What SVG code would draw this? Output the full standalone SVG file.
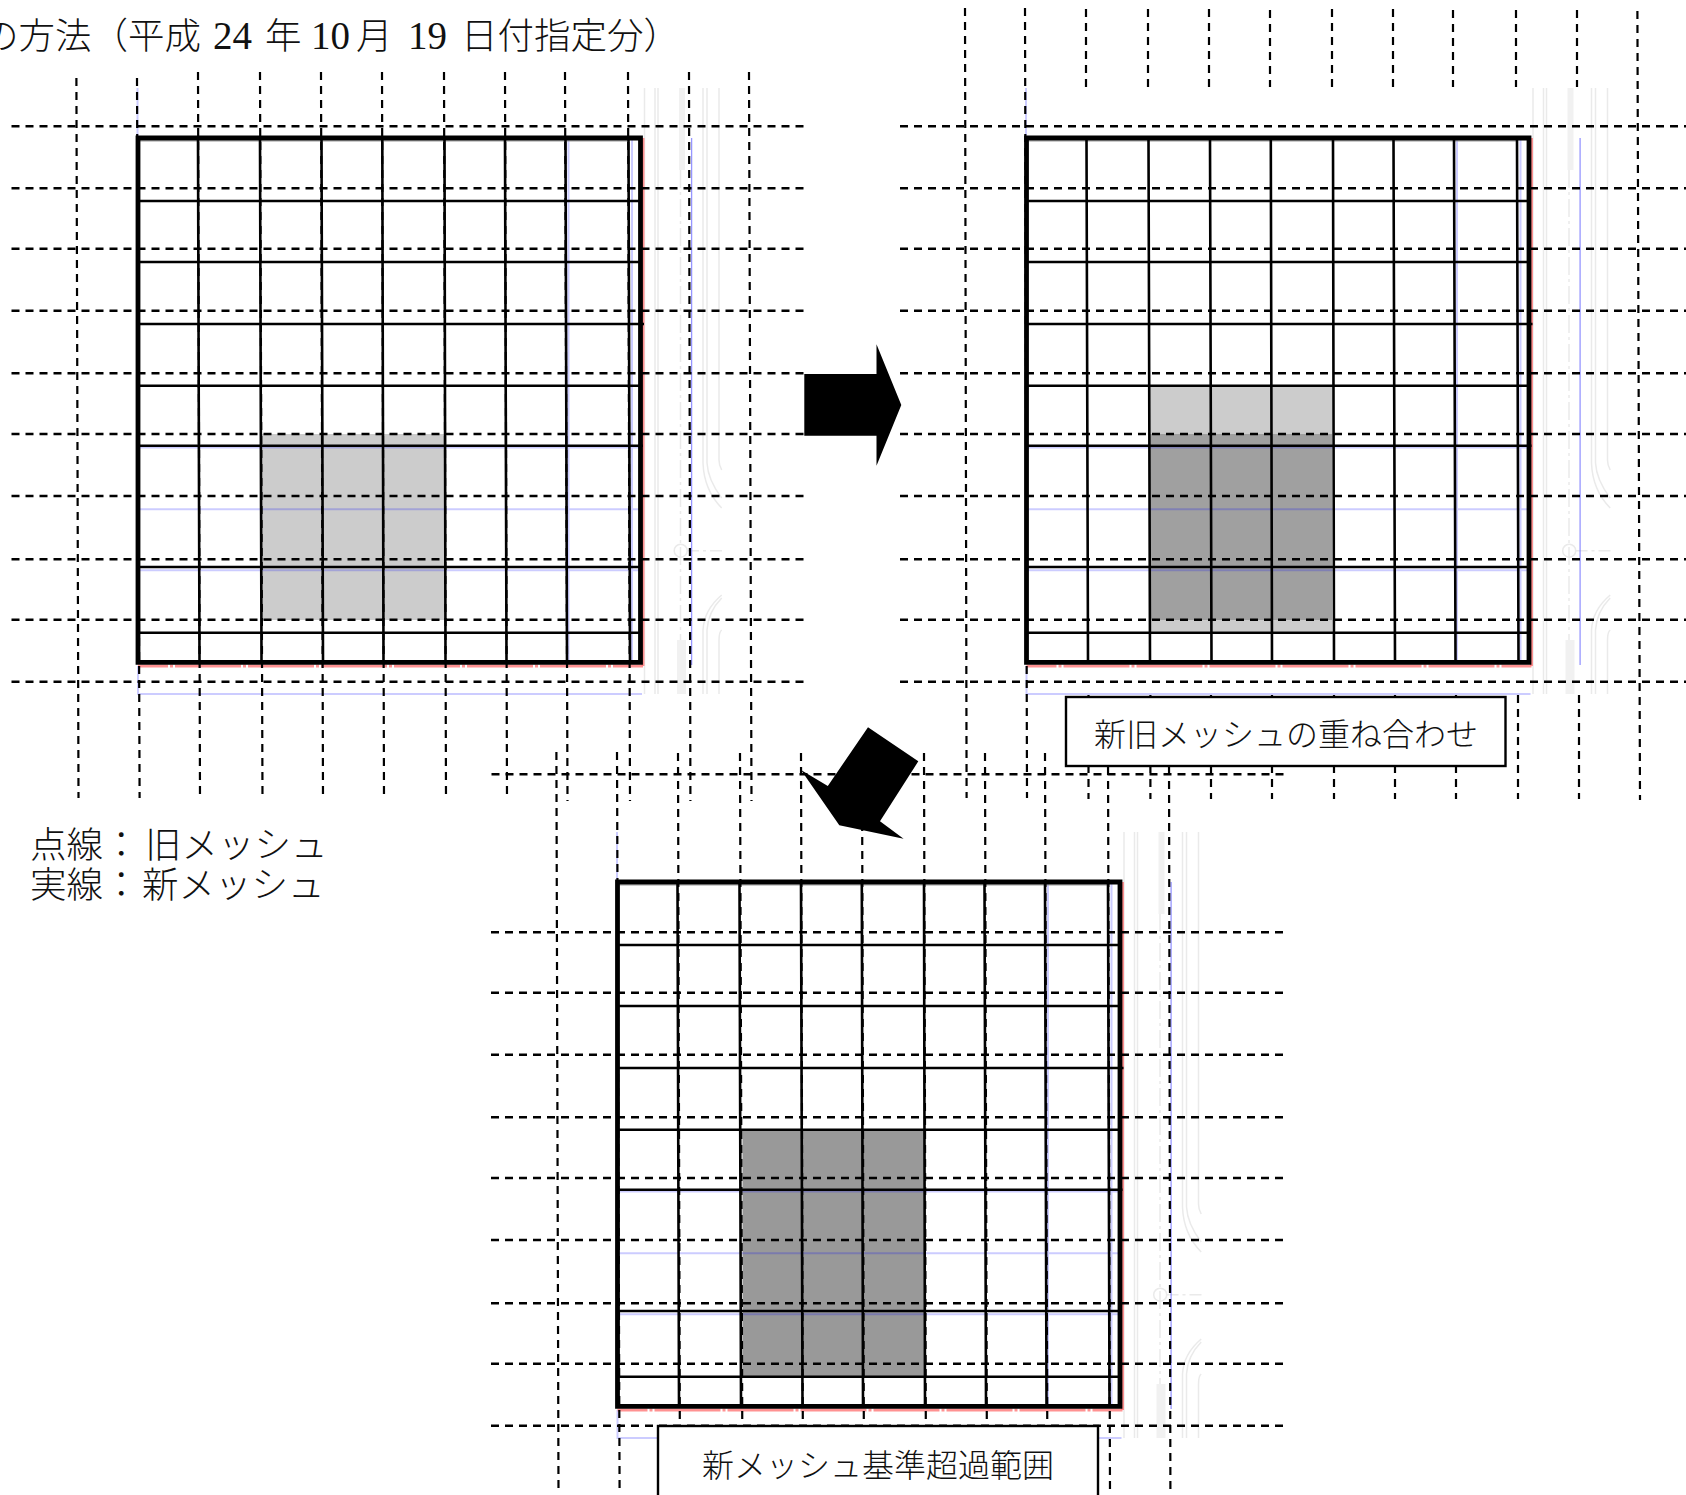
<svg xmlns="http://www.w3.org/2000/svg" xmlns:xlink="http://www.w3.org/1999/xlink" width="1686" height="1495" viewBox="0 0 1686 1495">
<style>
text{font-family:"Liberation Serif","Noto Sans CJK JP",serif;fill:#111}
.cjk{font-family:"Noto Sans CJK JP",sans-serif;font-weight:300}
.t{font-size:36.5px}
.n{font-size:39px}
.l{font-size:32px}
.dh,.dv{fill:none;stroke:#000}
.dh{stroke-width:2.4;stroke-dasharray:8 6}
.dv{stroke-width:2.2;stroke-dasharray:8 6}
.solid{fill:none;stroke:#000;stroke-width:2.6}
.frame{fill:none;stroke:#000;stroke-width:4.8}
.blue{fill:none;stroke:#00f;stroke-opacity:.2;stroke-width:2}
.blue2{fill:none;stroke:#6a6aff;stroke-opacity:.7;stroke-width:1.3}
.red{fill:none;stroke:#f77;stroke-opacity:.8;stroke-width:3}
.ghost{fill:none;stroke:#eaeaea;stroke-width:1.5}
.box{fill:#fff;stroke:#000;stroke-width:2.4}
</style>
<defs>
<g id="mesh">
<path class="ghost" d="M644.5 88V694M655 88V694M658 88V694M703 88V463Q704 490 721.7 508M707 88V463Q708 480 721.7 498M719 88V460Q719 465 721.7 470M721.7 595Q704 610 703 630V694M721.7 598Q708 612 707 630V694M721.7 630Q719 632 719 640V694"/>
<path d="M679 88H685V170H679ZM677 640H686V694H677Z" fill="#f1f1f1"/>
<path class="ghost" d="M680.5 170V640" stroke-dasharray="18 4 3 4"/>
<circle class="ghost" cx="680.7" cy="550.7" r="6.5"/>
<path class="ghost" d="M687 550.7H722" stroke-dasharray="12 4 3 4"/>
<path class="blue" d="M137.5 88V138M632 138V662M139 447.6H640M139 509.3H640M139 570.3H640M138 666V694H642M568.5 138V662"/>
<path class="blue2" d="M691.6 138V665"/>
<path class="red" d="M643 138V666"/>
<path class="red" stroke-dasharray="66 2 3 2" stroke-dashoffset="36" d="M138 666H643"/>
<path d="M140 141H629" stroke="#999" fill="none"/>
<path class="solid" d="M198 138L199.5 662M260 138L261.5 662M321.5 138L323 662M382.3 138L383.5 662M444.5 138L445.5 662M505 138L506.5 662M565.5 138L567 662M628.5 138L630 662M137 201H642M137 262H642M137 324H644M137 385.7H642M137 445.7H643M137 567H642M137 632.7H642"/>
<path class="frame" d="M138 138H640.5V662.3H138Z"/>
<path class="dh" d="M11.5 188.3H804M11.5 248.7H804M11.5 310.7H804M11.5 373.3H804M11.5 434H804M11.5 496H804M11.5 559.3H804M11.5 619.7H804M11.5 681.7H804"/>
</g>
</defs>
<g id="title"><text class="t" x="-18" y="49" xml:space="preserve"><tspan class="cjk">の方法（平成</tspan> <tspan class="n" x="213">24</tspan> <tspan class="cjk" x="265">年</tspan> <tspan class="n" x="311">10</tspan> <tspan class="cjk" x="356">月</tspan> <tspan class="n" x="408">19</tspan> <tspan class="cjk" x="461">日付指定分）</tspan></text></g>

<g id="panel-old">
<rect x="261.5" y="434" width="183.5" height="186" fill="#ccc"/>
<use xlink:href="#mesh" href="#mesh"/>
<path class="dh" d="M11.5 126.3H804"/>
<path class="dv" d="M76.4 78L78.5 798M137 78L139.6 798M198 72L200 800M260 72L262.5 800M321 72L323 800M382 72L384 800M444 72L446 800M505 72L507 800M565 72L567.5 801M628 72L630 801M689 72L690.4 801M749 72L751.5 801"/>
</g>

<g id="panel-overlay">
<rect x="1150" y="385.7" width="182" height="246" fill="#ccc"/>
<rect x="1150" y="434" width="182" height="186" fill="#a0a0a0"/>
<use xlink:href="#mesh" href="#mesh" x="888.5"/>
<path class="dh" d="M900 126.3H1692"/>
<path class="dv" d="M965 8L966.6 798M1025 8L1027 798M1637.4 11L1640 800M1086 9V87M1148 9V87M1209 9V87M1270 10V87M1332 9V87M1393 9V87M1453 10V87M1516 10V87M1577 10V87M1088.5 695V799M1150.4 695V799M1211 695V799M1272 695V799M1334 695V799M1395 695V799M1456 695V799M1518 695V799M1579 695V799"/>
</g>

<g id="panel-exceed">
<rect x="742.5" y="1130.7" width="182.5" height="246.3" fill="#999"/>
<use xlink:href="#mesh" href="#mesh" x="479.5" y="744"/>
<path class="dh" d="M491.5 774.3H1284"/>
<path class="dv" d="M556.4 752L558.5 1494M617 752L619.6 1494M678 753L680 1494M740 753L742.5 1494M801 753L803 1494M862 753L864 1494M924 753L926 1494M985 753L987 1494M1045 753L1047.5 1494M1108 753L1110 1494M1169 753L1170.4 1494"/>
</g>

<g id="connectors">
<path id="arrow-right" d="M804.3 374H876.5V344.3L901.3 405L876.5 465.7V435.7H804.3Z" fill="#000"/>
<path id="arrow-down" d="M868 727.3L918.3 761.3L880 821.3L903.6 838.7L839.3 825.3L801 770L827.8 786Z" fill="#000"/>
</g>

<g id="label-overlay">
<rect class="box" x="1066" y="697" width="439.5" height="69"/>
<text class="cjk l" x="1094" y="746">新旧メッシュの重ね合わせ</text>
</g>
<g id="label-exceed">
<rect class="box" x="658" y="1426" width="440" height="72"/>
<text class="cjk l" x="702" y="1477">新メッシュ基準超過範囲</text>
</g>
<g id="legend">
<text class="cjk t" x="30" y="858">点線：<tspan x="145">旧メッシュ</tspan></text>
<text class="cjk t" x="30" y="898">実線：<tspan x="142">新メッシュ</tspan></text>
</g>
</svg>
